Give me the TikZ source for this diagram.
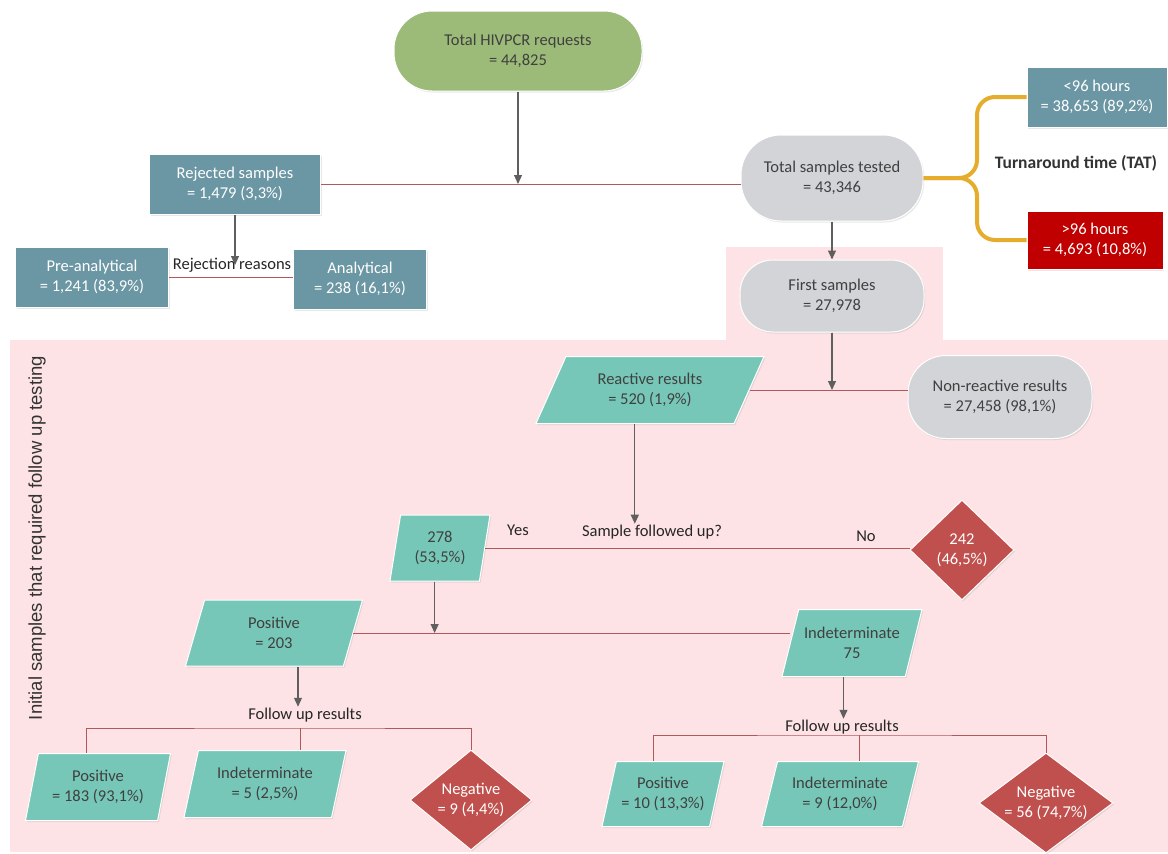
\documentclass[tikz,border=0pt]{standalone}
\usepackage{fontspec}
\setmainfont{Carlito}
\newfontfamily\sidefont{Liberation Sans}
\usetikzlibrary{shapes.geometric,arrows.meta,shadows}

\definecolor{hivgreen}{HTML}{9CBB78}
\definecolor{boxblue}{HTML}{6B96A4}
\definecolor{pillgray}{HTML}{D3D4D8}
\definecolor{mint}{HTML}{76C7B7}
\definecolor{diared}{HTML}{C0504D}
\definecolor{darkred}{HTML}{C00000}
\definecolor{pinkbg}{HTML}{FDE3E5}
\definecolor{gold}{HTML}{E5AD2B}
\definecolor{linkred}{HTML}{B0585A}
\definecolor{arrgray}{HTML}{5F5F5F}
\definecolor{txtdark}{HTML}{404040}

\tikzset{
  base/.style={font=\fontsize{16.5}{20}\selectfont, align=center, inner sep=3pt,
    draw=white, line width=1pt,
    drop shadow={shadow xshift=1.2pt, shadow yshift=-1.5pt, opacity=0.18}},
  bluebox/.style={base, rectangle, fill=boxblue, text=white},
  redbox/.style={base, rectangle, fill=darkred, text=white},
  pill/.style={base, rectangle, rounded corners=34pt, fill=pillgray, text=txtdark},
  para/.style={base, trapezium, trapezium left angle=#1, trapezium right angle=180-#1,
    trapezium stretches body, fill=mint, text=txtdark},
  diam/.style={base, diamond, aspect=#1, inner sep=0pt, fill=diared, text=white},
  lbl/.style={font=\fontsize{16.5}{20}\selectfont, text=black!85, inner sep=1pt},
  link/.style={draw=linkred, line width=1pt},
  arr/.style={draw=arrgray, line width=1.2pt, -{Triangle[length=9pt,width=8pt]}},
  brace/.style={draw=gold, line width=4pt, rounded corners=18pt}
}

\begin{document}
\begin{tikzpicture}[x=1pt, y=-1pt]
  \useasboundingbox (0,0) rectangle (1168,854);

  % pink background bands
  \fill[pinkbg] (10,340) rectangle (1168,852);
  \fill[pinkbg] (726,247) rectangle (943,340);

  % requests and rejections
  \node[pill, fill=hivgreen, rounded corners=38pt, minimum width=248, minimum height=80] (hiv) at (518,51) {Total HIVPCR requests\\= 44,825};
  \node[bluebox, minimum width=171, minimum height=60] (rej) at (235,184) {Rejected samples\\= 1,479 (3,3\%)};
  \node[bluebox, minimum width=153, minimum height=60] (pre) at (92,277) {Pre-analytical\\= 1,241 (83,9\%)};
  \node[bluebox, minimum width=133, minimum height=60] (ana) at (360,279) {Analytical\\= 238 (16,1\%)};
  \node[lbl] (why) at (232,265) {Rejection reasons};

  % tested samples and turnaround time
  \node[pill, rounded corners=40pt, minimum width=182, minimum height=86] (tested) at (832,178) {Total samples tested\\= 43,346};
  \node[bluebox, minimum width=140, minimum height=60] (lt96) at (1097,97) {<96 hours\\= 38,653 (89,2\%)};
  \node[redbox, minimum width=136, minimum height=58] (gt96) at (1095,240) {>96 hours\\= 4,693 (10,8\%)};
  \node[lbl, font=\bfseries\fontsize{17.5}{20}\selectfont, text=black!80] (tat) at (1076,163) {Turnaround time (TAT)};
  \coordinate (tatfork) at (977,178);

  % first samples and results
  \node[pill, rounded corners=33pt, minimum width=184, minimum height=72] (first) at (832,296) {First samples\\= 27,978};
  \node[para=53, minimum width=228, minimum height=67] (react) at (650,390) {Reactive results\\= 520 (1,9\%)};
  \node[pill, rounded corners=38pt, minimum width=184, minimum height=83] (nonr) at (1000,397) {Non-reactive results\\= 27,458 (98,1\%)};

  % follow up decision
  \node[lbl] (ask) at (652,532) {Sample followed up?};
  \node[para=75, minimum width=100, minimum height=66] (yes) at (440,548) {278\\(53,5\%)};
  \node[lbl] (yeslbl) at (518,530) {Yes};
  \node[lbl] (nolbl) at (866,536) {No};
  \node[diam=1.04, minimum width=104, minimum height=100] (no) at (962,550) {242\\(46,5\%)};

  \node[para=63, minimum width=177, minimum height=66] (pos) at (274,633) {Positive\\= 203};
  \node[para=66, minimum width=140, minimum height=67] (ind) at (852,643) {Indeterminate\\75};

  % follow up results
  \node[lbl] (fuA) at (305,715) {Follow up results};
  \node[lbl] (fuB) at (842,727) {Follow up results};
  \coordinate (bA) at (300,728);
  \coordinate (bB) at (859,735);
  \node[para=72, minimum width=145, minimum height=67] (posA) at (98,787) {Positive\\= 183 (93,1\%)};
  \node[para=70, minimum width=162, minimum height=67] (indA) at (265,784) {Indeterminate\\= 5 (2,5\%)};
  \node[diam=1.22, minimum width=122, minimum height=100] (negA) at (471,800) {Negative\\= 9 (4,4\%)};
  \node[para=70, minimum width=122, minimum height=65] (posB) at (663,794) {Positive\\= 10 (13,3\%)};
  \node[para=68, minimum width=157, minimum height=65] (indB) at (840,794) {Indeterminate\\= 9 (12,0\%)};
  \node[diam=1.34, minimum width=134, minimum height=100] (negB) at (1046,803) {Negative\\= 56 (74,7\%)};

  % side label
  \node[font=\sidefont\fontsize{18.5}{22}\selectfont, text=black!80, rotate=90] (side) at (37,538) {Initial samples that required follow up testing};

  % connectors
  \draw[link] (rej.east) -- (rej.east -| tested.west);
  \draw[arr] (hiv.south) -- (hiv.south |- rej.east);
  \draw[link] (pre.east) -- (pre.east -| ana.west);
  \draw[arr] (rej.south) -- (rej.south |- why.center);

  \draw[brace] (lt96.west) -| (tatfork) -- (tested.east);
  \draw[brace] (gt96.west) -| (tatfork) -- (tested.east);

  \draw[arr] (tested.south) -- (first.north);
  \draw[link] (react.east) -- (react.east -| nonr.west);
  \draw[arr] (first.south) -- (first.south |- react.east);
  \draw[arr] (react.bottom side) -- (react.bottom side |- ask.north);

  \draw[link] (yes.east) -- (yes.east -| no.west);
  \draw[link] (pos.east) -- (pos.east -| ind.west);
  \draw[arr] (yes.bottom side) -- (yes.bottom side |- pos.east);

  \draw[arr] ([xshift=24]pos.south) -- ([xshift=24]pos.south |- fuA.north);
  \draw[arr] (ind.bottom side) -- (ind.bottom side |- fuB.north);

  \draw[link] ([xshift=-12]posA.north) |- (bA) -| (negA.north);
  \draw[link] (bA) -- (bA |- indA.north);
  \draw[link] ([xshift=-10]posB.north) |- (bB) -| (negB.north);
  \draw[link] (bB) -- (bB |- indB.north);
\end{tikzpicture}
\end{document}
